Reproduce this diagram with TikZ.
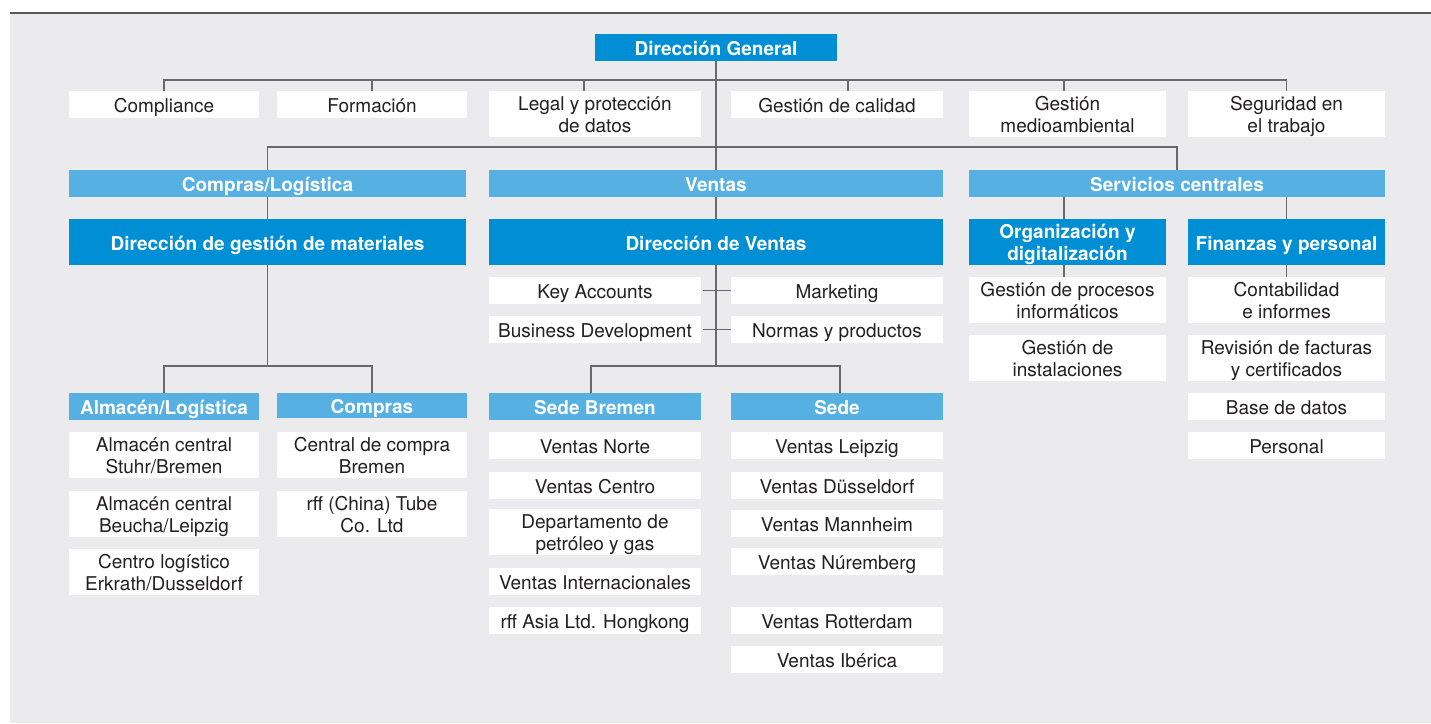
\documentclass[tikz,border=0pt]{standalone}
\usepackage{fontspec}
\setmainfont{TeX Gyre Heros}
\definecolor{bg}{RGB}{235,235,237}
\definecolor{dblue}{RGB}{0,143,213}
\definecolor{lblue}{RGB}{86,176,226}
\definecolor{txt}{RGB}{35,31,32}
\definecolor{conn}{RGB}{105,105,108}
\definecolor{topline}{RGB}{88,89,91}
\tikzset{
  box/.style={anchor=north west, inner sep=0pt, outer sep=0pt, align=center,
    font=\fontsize{19}{22}\selectfont, text=txt, text height=16pt, text depth=0pt},
  two/.style={text height=37pt, text depth=0pt},
  wbox/.style={box, fill=white},
  lbox/.style={box, fill=lblue, text=white, font=\fontsize{19}{22}\selectfont\bfseries},
  dbox/.style={box, fill=dblue, text=white, font=\fontsize{19}{22}\selectfont\bfseries},
  cn/.style={draw=conn, line width=1.2pt},
}
\newcommand{\bx}[7]{\node[#1, minimum width=#5pt, minimum height=#6pt] (#2) at (#3,#4) {#7};}
\begin{document}
\begin{tikzpicture}[x=1pt,y=-1pt]
\useasboundingbox (0,0) rectangle (1431,723);
\fill[white] (0,0) rectangle (1431,723);
\fill[bg] (10,13) rectangle (1431,723);
\draw[topline, line width=2.5pt] (10,13) -- (1431,13);

% top
\bx{dbox}{dg}{595}{34}{242}{27}{Dirección General}
\bx{wbox}{comp}{69}{91}{190}{27}{Compliance}
\bx{wbox}{form}{277}{91}{190}{27}{Formación}
\bx{wbox,two}{legal}{489}{91}{212}{46}{Legal y protección\\de datos}
\bx{wbox}{cal}{731}{91}{212}{27}{Gestión de calidad}
\bx{wbox,two}{medio}{969}{91}{197}{46}{Gestión\\medioambiental}
\bx{wbox,two}{seg}{1188}{91}{197}{46}{Seguridad en\\el trabajo}

% level 2
\bx{lbox}{cl}{69}{170}{397}{27}{Compras/Logística}
\bx{lbox}{ven}{489}{170}{454}{27}{Ventas}
\bx{lbox}{sc}{969}{170}{416}{27}{Servicios centrales}

% level 3
\bx{dbox}{dgm}{69}{219}{397}{46}{Dirección de gestión de materiales}
\bx{dbox}{dv}{489}{219}{454}{46}{Dirección de Ventas}
\bx{dbox,two}{org}{969}{219}{197}{46}{Organización y\\digitalización}
\bx{dbox}{fin}{1188}{219}{197}{46}{Finanzas y personal}

% ventas staff
\bx{wbox}{ka}{489}{277}{212}{27}{Key Accounts}
\bx{wbox}{mk}{731}{277}{212}{27}{Marketing}
\bx{wbox}{bd}{489}{316}{212}{27}{Business Development}
\bx{wbox}{np}{731}{316}{212}{27}{Normas y productos}

% servicios
\bx{wbox,two}{gp}{969}{277}{197}{46}{Gestión de procesos\\informáticos}
\bx{wbox,two}{gi}{969}{335}{197}{46}{Gestión de\\instalaciones}
\bx{wbox,two}{cont}{1188}{277}{197}{46}{Contabilidad\\e informes}
\bx{wbox,two}{rev}{1188}{335}{197}{46}{Revisión de facturas\\y certificados}
\bx{wbox}{bdd}{1188}{393}{197}{27}{Base de datos}
\bx{wbox}{pers}{1188}{432}{197}{27}{Personal}

% level 4
\bx{lbox}{al}{69}{393}{190}{27}{Almacén/Logística}
\bx{lbox}{cp}{277}{393}{190}{25}{Compras}
\bx{lbox}{sb}{489}{393}{212}{27}{Sede Bremen}
\bx{lbox}{sd}{731}{393}{212}{27}{Sede}

\bx{wbox,two}{a1}{69}{432}{190}{46}{Almacén central\\Stuhr/Bremen}
\bx{wbox,two}{a2}{69}{491}{190}{46}{Almacén central\\Beucha/Leipzig}
\bx{wbox,two}{a3}{69}{549}{190}{46}{Centro logístico\\Erkrath/Dusseldorf}
\bx{wbox,two}{c1}{277}{432}{190}{46}{Central de compra\\Bremen}
\bx{wbox,two}{c2}{277}{491}{190}{46}{rff (China) Tube\\Co. Ltd}

\bx{wbox}{vn}{489}{432}{212}{27}{Ventas Norte}
\bx{wbox}{vc}{489}{472}{212}{27}{Ventas Centro}
\bx{wbox,two}{dp}{489}{509}{212}{46}{Departamento de\\petróleo y gas}
\bx{wbox}{vi}{489}{568}{212}{27}{Ventas Internacionales}
\bx{wbox}{ra}{489}{607}{212}{27}{rff Asia Ltd. Hongkong}

\bx{wbox}{vl}{731}{432}{212}{27}{Ventas Leipzig}
\bx{wbox}{vd}{731}{472}{212}{27}{Ventas Düsseldorf}
\bx{wbox}{vm}{731}{510}{212}{27}{Ventas Mannheim}
\bx{wbox}{vnu}{731}{548}{212}{27}{Ventas Núremberg}
\bx{wbox}{vr}{731}{607}{212}{27}{Ventas Rotterdam}
\bx{wbox}{vib}{731}{646}{212}{27}{Ventas Ibérica}

% connectors
\coordinate (b1) at (dg.south |- 0,80);
\coordinate (b2) at (dg.south |- 0,147);
\draw[cn] (dg.south) -- (ven.north);
\draw[cn] (b1) -| (comp.north);
\draw[cn] (b1) -| (form.north);
\draw[cn] (b1) -| ([xshift=-11pt]legal.north);
\draw[cn] (b1) -| ([xshift=11pt]cal.north);
\draw[cn] (b1) -| ([xshift=-3.5pt]medio.north);
\draw[cn] (b1) -| (seg.north);
\draw[cn] (b2) -| (cl.north);
\draw[cn] (b2) -| (sc.north);
\draw[cn] (cl.south) -- (dgm.north);
\draw[cn] (ven.south) -- (dv.north);
\draw[cn] ([xshift=-3.5pt]org.north) -- ([xshift=-3.5pt]org.north |- sc.south);
\draw[cn] (fin.north) -- (fin.north |- sc.south);

\coordinate (b3) at (dgm.south |- 0,366);
\draw[cn] (dgm.south) -- (b3);
\draw[cn] (b3) -| (al.north);
\draw[cn] (b3) -| (cp.north);

\coordinate (b4) at (dv.south |- 0,366);
\draw[cn] (dv.south) -- (b4);
\draw[cn] (b4) -| ([xshift=-4pt]sb.north);
\draw[cn] (b4) -| ([xshift=3pt]sd.north);
\draw[cn] ([xshift=2pt]ka.east) -- (mk.west);
\draw[cn] ([xshift=2pt]bd.east) -- (np.west);

\draw[cn] ([xshift=-3.5pt]org.south) -- ([xshift=-3.5pt]gp.north);
\draw[cn] (fin.south) -- (cont.north);
\end{tikzpicture}
\end{document}
